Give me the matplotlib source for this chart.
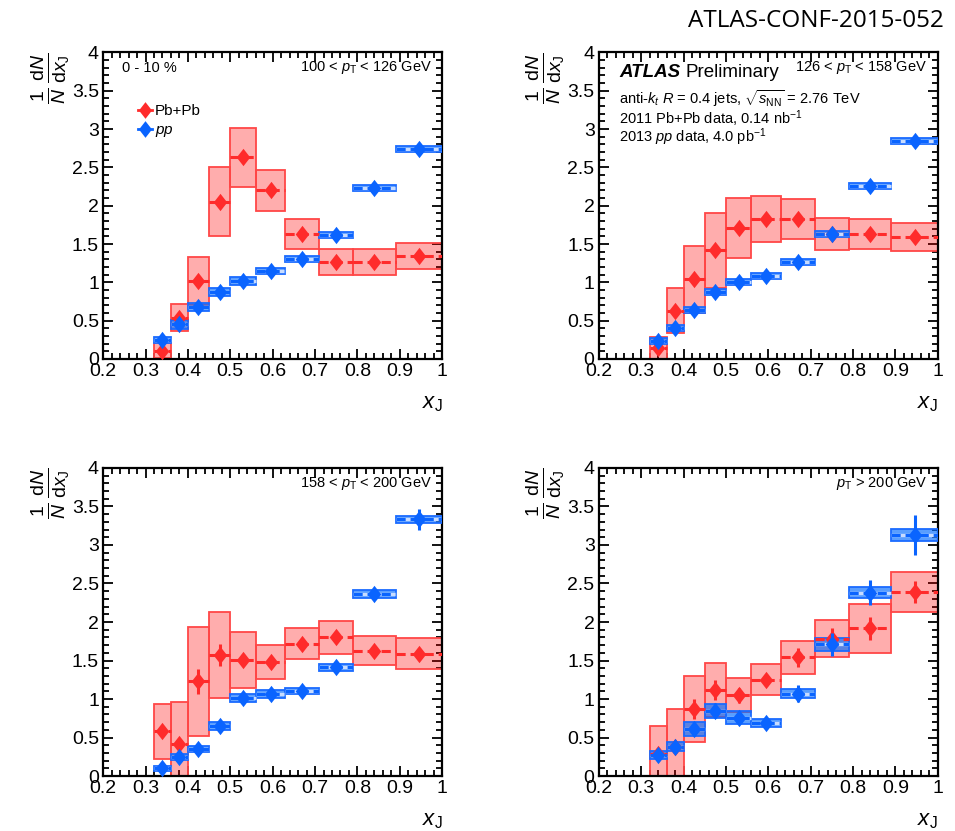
import numpy as np
import matplotlib
matplotlib.use('Agg')
import matplotlib.pyplot as plt
from matplotlib.lines import Line2D
from matplotlib.ticker import MultipleLocator, FuncFormatter

plt.rcParams['font.family'] = ['Liberation Sans', 'DejaVu Sans']
plt.rcParams['mathtext.fontset'] = 'custom'
plt.rcParams['mathtext.rm'] = 'Liberation Sans'
plt.rcParams['mathtext.it'] = 'Liberation Sans:italic'
plt.rcParams['mathtext.bf'] = 'Liberation Sans:bold'

# Bins em x_J (mesmos para todos os paineis)
bordas_xj = np.array([0.32, 0.36, 0.40, 0.45, 0.50, 0.56, 0.63, 0.71, 0.79, 0.89, 1.00])

# 100 < pT < 126 GeV
pbpb_1 = [0.11, 0.54, 1.02, 2.05, 2.63, 2.20, 1.63, 1.27, 1.27, 1.34]
pbpb_sys_1 = [0.10, 0.18, 0.31, 0.45, 0.38, 0.27, 0.20, 0.17, 0.17, 0.17]
pbpb_stat_1 = [0.03, 0.03, 0.04, 0.05, 0.05, 0.05, 0.04, 0.03, 0.03, 0.03]
pp_1 = [0.25, 0.455, 0.68, 0.87, 1.02, 1.15, 1.30, 1.62, 2.23, 2.74]
pp_sys_1 = [0.04, 0.06, 0.05, 0.05, 0.05, 0.04, 0.04, 0.04, 0.04, 0.04]
pp_stat_1 = [0.02, 0.02, 0.02, 0.02, 0.02, 0.02, 0.02, 0.03, 0.03, 0.04]

# 126 < pT < 158 GeV
pbpb_2 = [0.14, 0.63, 1.04, 1.42, 1.71, 1.82, 1.83, 1.63, 1.63, 1.59]
pbpb_sys_2 = [0.15, 0.29, 0.44, 0.49, 0.39, 0.30, 0.26, 0.21, 0.19, 0.18]
pbpb_stat_2 = [0.03, 0.04, 0.04, 0.05, 0.05, 0.05, 0.04, 0.04, 0.04, 0.04]
pp_2 = [0.23, 0.40, 0.64, 0.87, 1.00, 1.08, 1.27, 1.63, 2.26, 2.84]
pp_sys_2 = [0.04, 0.04, 0.04, 0.04, 0.04, 0.04, 0.04, 0.04, 0.04, 0.04]
pp_stat_2 = [0.02, 0.02, 0.02, 0.02, 0.02, 0.02, 0.03, 0.03, 0.03, 0.04]

# 158 < pT < 200 GeV
pbpb_3 = [0.58, 0.42, 1.23, 1.57, 1.51, 1.48, 1.72, 1.80, 1.63, 1.59]
pbpb_sys_3 = [0.36, 0.54, 0.71, 0.56, 0.36, 0.22, 0.20, 0.21, 0.19, 0.20]
pbpb_stat_3 = [0.04, 0.05, 0.16, 0.14, 0.07, 0.06, 0.05, 0.05, 0.05, 0.05]
pp_3 = [0.10, 0.25, 0.35, 0.65, 1.01, 1.07, 1.10, 1.41, 2.36, 3.33]
pp_sys_3 = [0.03, 0.04, 0.04, 0.05, 0.05, 0.05, 0.04, 0.04, 0.05, 0.05]
pp_stat_3 = [0.03, 0.03, 0.03, 0.04, 0.04, 0.04, 0.03, 0.04, 0.05, 0.14]

# pT > 200 GeV
pbpb_4 = [0.29, 0.38, 0.87, 1.12, 1.05, 1.25, 1.54, 1.78, 1.92, 2.39]
pbpb_sys_4 = [0.36, 0.49, 0.43, 0.35, 0.22, 0.20, 0.21, 0.24, 0.32, 0.26]
pbpb_stat_4 = [0.08, 0.08, 0.13, 0.13, 0.10, 0.08, 0.12, 0.14, 0.15, 0.14]
pp_4 = [0.27, 0.38, 0.61, 0.85, 0.76, 0.69, 1.07, 1.71, 2.38, 3.13]
pp_sys_4 = [0.05, 0.06, 0.09, 0.09, 0.08, 0.05, 0.06, 0.08, 0.07, 0.08]
pp_stat_4 = [0.07, 0.07, 0.09, 0.10, 0.08, 0.06, 0.11, 0.15, 0.16, 0.26]

rotulos_pt = [r'100 < $p_{\mathrm{T}}$ < 126 GeV',
              r'126 < $p_{\mathrm{T}}$ < 158 GeV',
              r'158 < $p_{\mathrm{T}}$ < 200 GeV',
              r'$p_{\mathrm{T}}$ > 200 GeV']

VERMELHO = '#ff2b2b'
AZUL = '#0a64ff'

# losango cheio, um pouco mais alto que largo
LOSANGO = [(0, 1), (0.78, 0), (0, -1), (-0.78, 0), (0, 1)]


def desenhar_painel(ax, pbpb, pbpb_sys, pbpb_stat, pp, pp_sys, pp_stat):
    centros = (bordas_xj[:-1] + bordas_xj[1:]) / 2
    larguras = np.diff(bordas_xj)
    pbpb, pbpb_sys, pp, pp_sys = map(np.asarray, (pbpb, pbpb_sys, pp, pp_sys))

    # caixas de incerteza sistematica
    ax.bar(centros, 2 * pbpb_sys, bottom=pbpb - pbpb_sys, width=larguras,
           color=(1, 0, 0, 0.32), edgecolor='#ff4747', linewidth=1.3, zorder=2)
    ax.bar(centros, 2 * pp_sys, bottom=pp - pp_sys, width=larguras,
           color=(0.0, 0.42, 1.0, 0.65), edgecolor='#1a6bff', linewidth=1.3, zorder=3)
    ax.hlines(pp, bordas_xj[:-1], bordas_xj[1:], color='#c8dcff', lw=2.4, zorder=3.5)

    for vals, stat, cor, z in ((pbpb, pbpb_stat, VERMELHO, 4), (pp, pp_stat, AZUL, 5)):
        eb = ax.errorbar(centros, vals, xerr=larguras / 2, yerr=stat, fmt='none',
                         ecolor=cor, elinewidth=2.2, capsize=0, zorder=z)
        eb[2][0].set_linestyle((0, (3.0, 1.6)))
        ax.plot(centros, vals, linestyle='none', marker=LOSANGO, ms=12.5,
                color=cor, mew=0, zorder=z + 0.1)

    ax.set_xlim(0.2, 1.0)
    ax.set_ylim(0, 4)
    ax.xaxis.set_major_locator(MultipleLocator(0.1))
    ax.xaxis.set_minor_locator(MultipleLocator(0.02))
    ax.yaxis.set_major_locator(MultipleLocator(0.5))
    ax.yaxis.set_minor_locator(MultipleLocator(0.1))
    fmt = FuncFormatter(lambda v, pos: f'{v:g}')
    ax.xaxis.set_major_formatter(fmt)
    ax.yaxis.set_major_formatter(fmt)
    ax.tick_params(which='both', direction='in', top=True, right=True,
                   width=1.3, labelsize=14, pad=3)
    ax.tick_params(which='major', length=7.5)
    ax.tick_params(which='minor', length=4)
    for s in ax.spines.values():
        s.set_linewidth(1.6)

    ax.set_xlabel(r'$x_{\mathrm{J}}$', loc='right', fontsize=16, labelpad=9)
    ax.set_ylabel(r'$\frac{1}{N}\,\frac{\mathrm{d}N}{\mathrm{d}x_{\mathrm{J}}}$',
                  loc='top', fontsize=20, labelpad=0)


def main():
    fig = plt.figure(figsize=(9.55, 8.31), dpi=100)

    posicoes = [(0.108, 0.568, 0.355, 0.369),
                (0.627, 0.568, 0.355, 0.369),
                (0.108, 0.066, 0.355, 0.371),
                (0.627, 0.066, 0.355, 0.371)]
    dados = [(pbpb_1, pbpb_sys_1, pbpb_stat_1, pp_1, pp_sys_1, pp_stat_1),
             (pbpb_2, pbpb_sys_2, pbpb_stat_2, pp_2, pp_sys_2, pp_stat_2),
             (pbpb_3, pbpb_sys_3, pbpb_stat_3, pp_3, pp_sys_3, pp_stat_3),
             (pbpb_4, pbpb_sys_4, pbpb_stat_4, pp_4, pp_sys_4, pp_stat_4)]

    eixos = []
    for pos, d, rotulo in zip(posicoes, dados, rotulos_pt):
        ax = fig.add_axes(pos)
        desenhar_painel(ax, *d)
        ax.text(0.97, 0.95, rotulo, transform=ax.transAxes, ha='right', va='center',
                fontsize=10.5)
        eixos.append(ax)

    # painel 1: centralidade e legenda
    ax1 = eixos[0]
    ax1.text(0.056, 0.95, '0 - 10 %', transform=ax1.transAxes, ha='left', va='center',
             fontsize=10.5)
    marcas = [Line2D([], [], color=VERMELHO, marker=LOSANGO, ms=12, mew=0, lw=2),
              Line2D([], [], color=AZUL, marker=LOSANGO, ms=12, mew=0, lw=2)]
    ax1.legend(marcas, ['Pb+Pb', r'$pp$'], loc='upper left', bbox_to_anchor=(0.085, 0.85),
               frameon=False, fontsize=11, handlelength=0.9, handletextpad=0.2,
               labelspacing=0.3, borderaxespad=0)

    # painel 2: informacoes do experimento
    ax2 = eixos[1]
    atlas = ax2.text(0.06, 0.935, 'ATLAS', transform=ax2.transAxes, ha='left',
                     va='center', fontsize=13.5, fontweight='bold', fontstyle='italic')
    ax2.annotate('Preliminary', xy=(1, 0.5), xycoords=atlas, xytext=(4, 0),
                 textcoords='offset points', ha='left', va='center', fontsize=13.5)
    ax2.text(0.06, 0.848,
             r'anti-$k_{t}$ $R$ = 0.4 jets, $\sqrt{s_{\mathrm{NN}}}$ = 2.76 TeV',
             transform=ax2.transAxes, ha='left', va='center', fontsize=10.5)
    ax2.text(0.06, 0.785, r'2011 Pb+Pb data, 0.14 nb$^{-1}$',
             transform=ax2.transAxes, ha='left', va='center', fontsize=10.5)
    ax2.text(0.06, 0.722, r'2013 $pp$ data, 4.0 pb$^{-1}$',
             transform=ax2.transAxes, ha='left', va='center', fontsize=10.5)

    fig.text(0.988, 0.975, 'ATLAS-CONF-2015-052', ha='right', va='center',
             fontsize=17.5, family=['Open Sans', 'DejaVu Sans'])

    fig.savefig('out.png', dpi=100)


if __name__ == "__main__":
    main()
